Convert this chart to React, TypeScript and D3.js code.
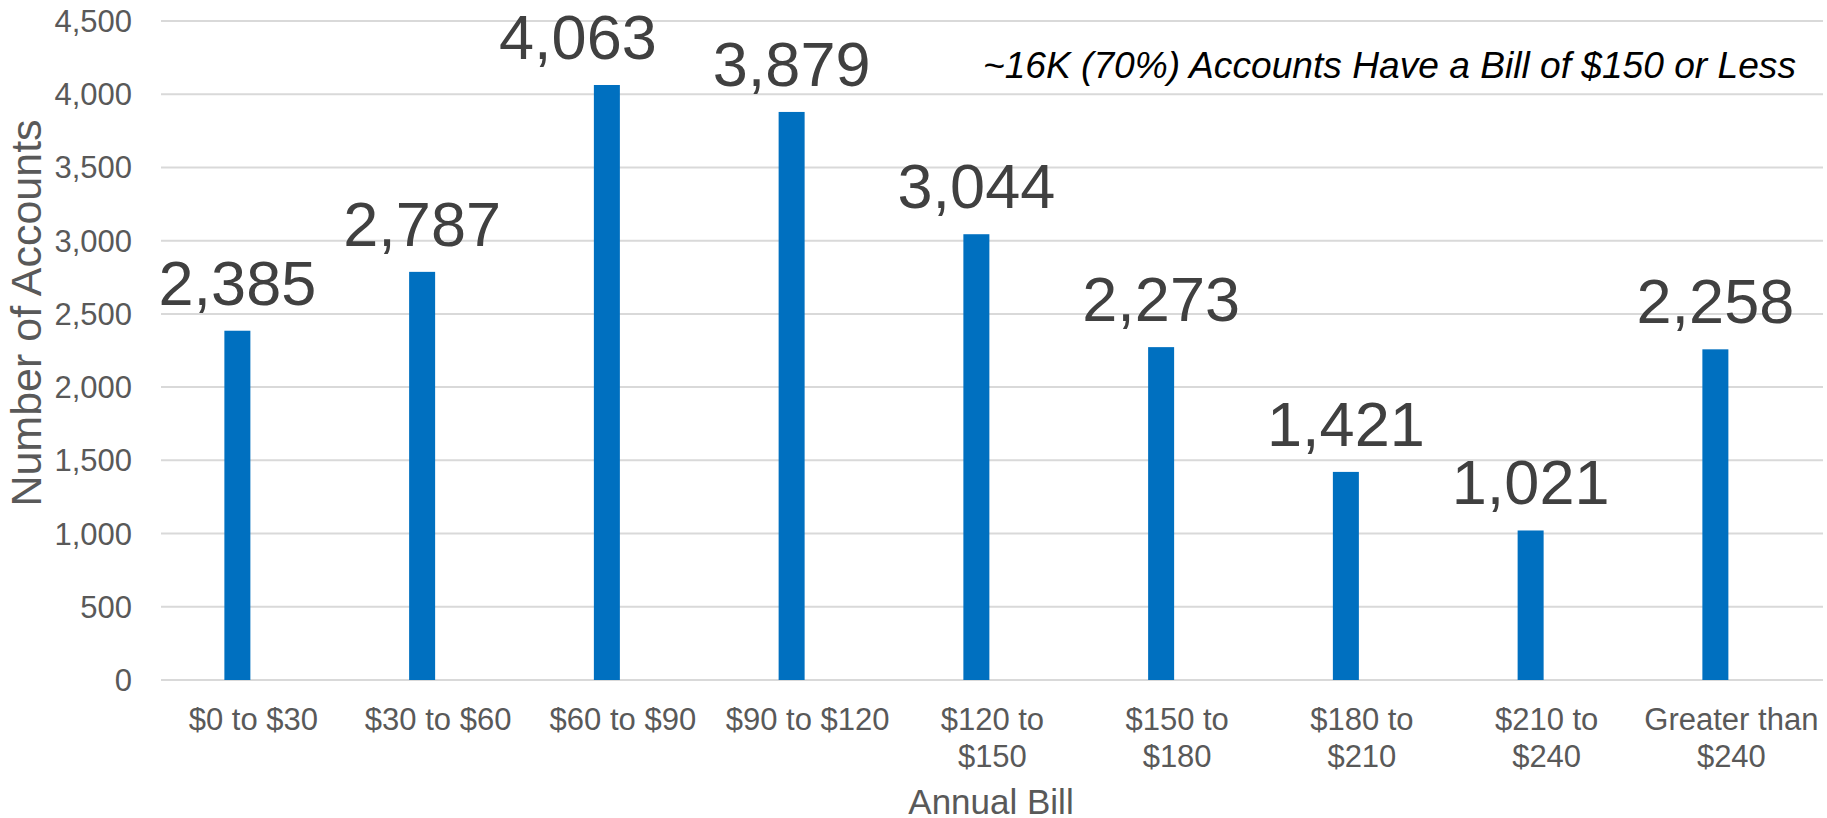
import React from "react";
import * as d3 from "d3";

const categories = [
  "$0 to $30",
  "$30 to $60",
  "$60 to $90",
  "$90 to $120",
  "$120 to $150",
  "$150 to $180",
  "$180 to $210",
  "$210 to $240",
  "Greater than $240",
];
const accounts = [2385, 2787, 4063, 3879, 3044, 2273, 1421, 1021, 2258];
const yTicks = [0, 500, 1000, 1500, 2000, 2500, 3000, 3500, 4000, 4500];
const annotation = "~16K (70%) Accounts Have a Bill of $150 or Less";
const xTitle = "Annual Bill";
const yTitle = "Number of Accounts";
const pageNumber = "10";

// label nudges (style only)
const labelNudge: Record<string, number> = { "$60 to $90": -29 };

const W = 1827;
const H = 818;
const FONT = "'Liberation Sans', Arial, Helvetica, sans-serif";

function wrap(s: string): string[] {
  if (s.length <= 11) return [s];
  const i = s.lastIndexOf(" ");
  return [s.slice(0, i), s.slice(i + 1)];
}

export default function App() {
  const x = d3.scaleBand<string>().domain(categories).range([161, 1823.75]).padding(0);
  const y = d3.scaleLinear().domain([0, 4500]).range([680, 21]);
  const bw = x.bandwidth();
  const barW = 26;
  const barOffset = -16;
  const fmt = d3.format(",");

  return (
    <svg
      width={W}
      height={H}
      style={{ position: "absolute", left: 0, top: 0, background: "#fff" }}
      fontFamily={FONT}
    >
      <rect x={0} y={0} width={W} height={H} fill="#fff" />
      {yTicks.map((t) => (
        <g key={t}>
          <line x1={161} x2={1823} y1={y(t)} y2={y(t)} stroke="#D9D9D9" strokeWidth={2} />
          <text x={132} y={y(t) + 11} textAnchor="end" fontSize={31} fill="#595959">
            {fmt(t)}
          </text>
        </g>
      ))}
      {categories.map((c, i) => {
        const cx = (x(c) as number) + bw / 2;
        const bx = cx + barOffset;
        const v = accounts[i];
        const lines = wrap(c);
        return (
          <g key={c}>
            <rect x={bx - barW / 2} y={y(v)} width={barW} height={y(0) - y(v)} fill="#0070C0" />
            <text
              x={bx + (labelNudge[c] || 0)}
              y={y(v) - 26}
              textAnchor="middle"
              fontSize={63}
              fill="#404040"
            >
              {fmt(v)}
            </text>
            <text textAnchor="middle" fontSize={31} fill="#595959">
              {lines.map((l, j) => (
                <tspan key={j} x={cx} y={730 + j * 37}>
                  {l}
                </tspan>
              ))}
            </text>
          </g>
        );
      })}
      <text x={991} y={814} textAnchor="middle" fontSize={35} fill="#595959">
        {xTitle}
      </text>
      <text
        transform={`translate(41,313) rotate(-90)`}
        textAnchor="middle"
        fontSize={43}
        fill="#595959"
      >
        {yTitle}
      </text>
      <text x={983} y={78} fontSize={37} fontStyle="italic" fill="#000" textLength={813} lengthAdjust="spacingAndGlyphs">
        {annotation}
      </text>
      <text x={1783} y={838} fontSize={30} fill="#000">
        {pageNumber}
      </text>
    </svg>
  );
}
